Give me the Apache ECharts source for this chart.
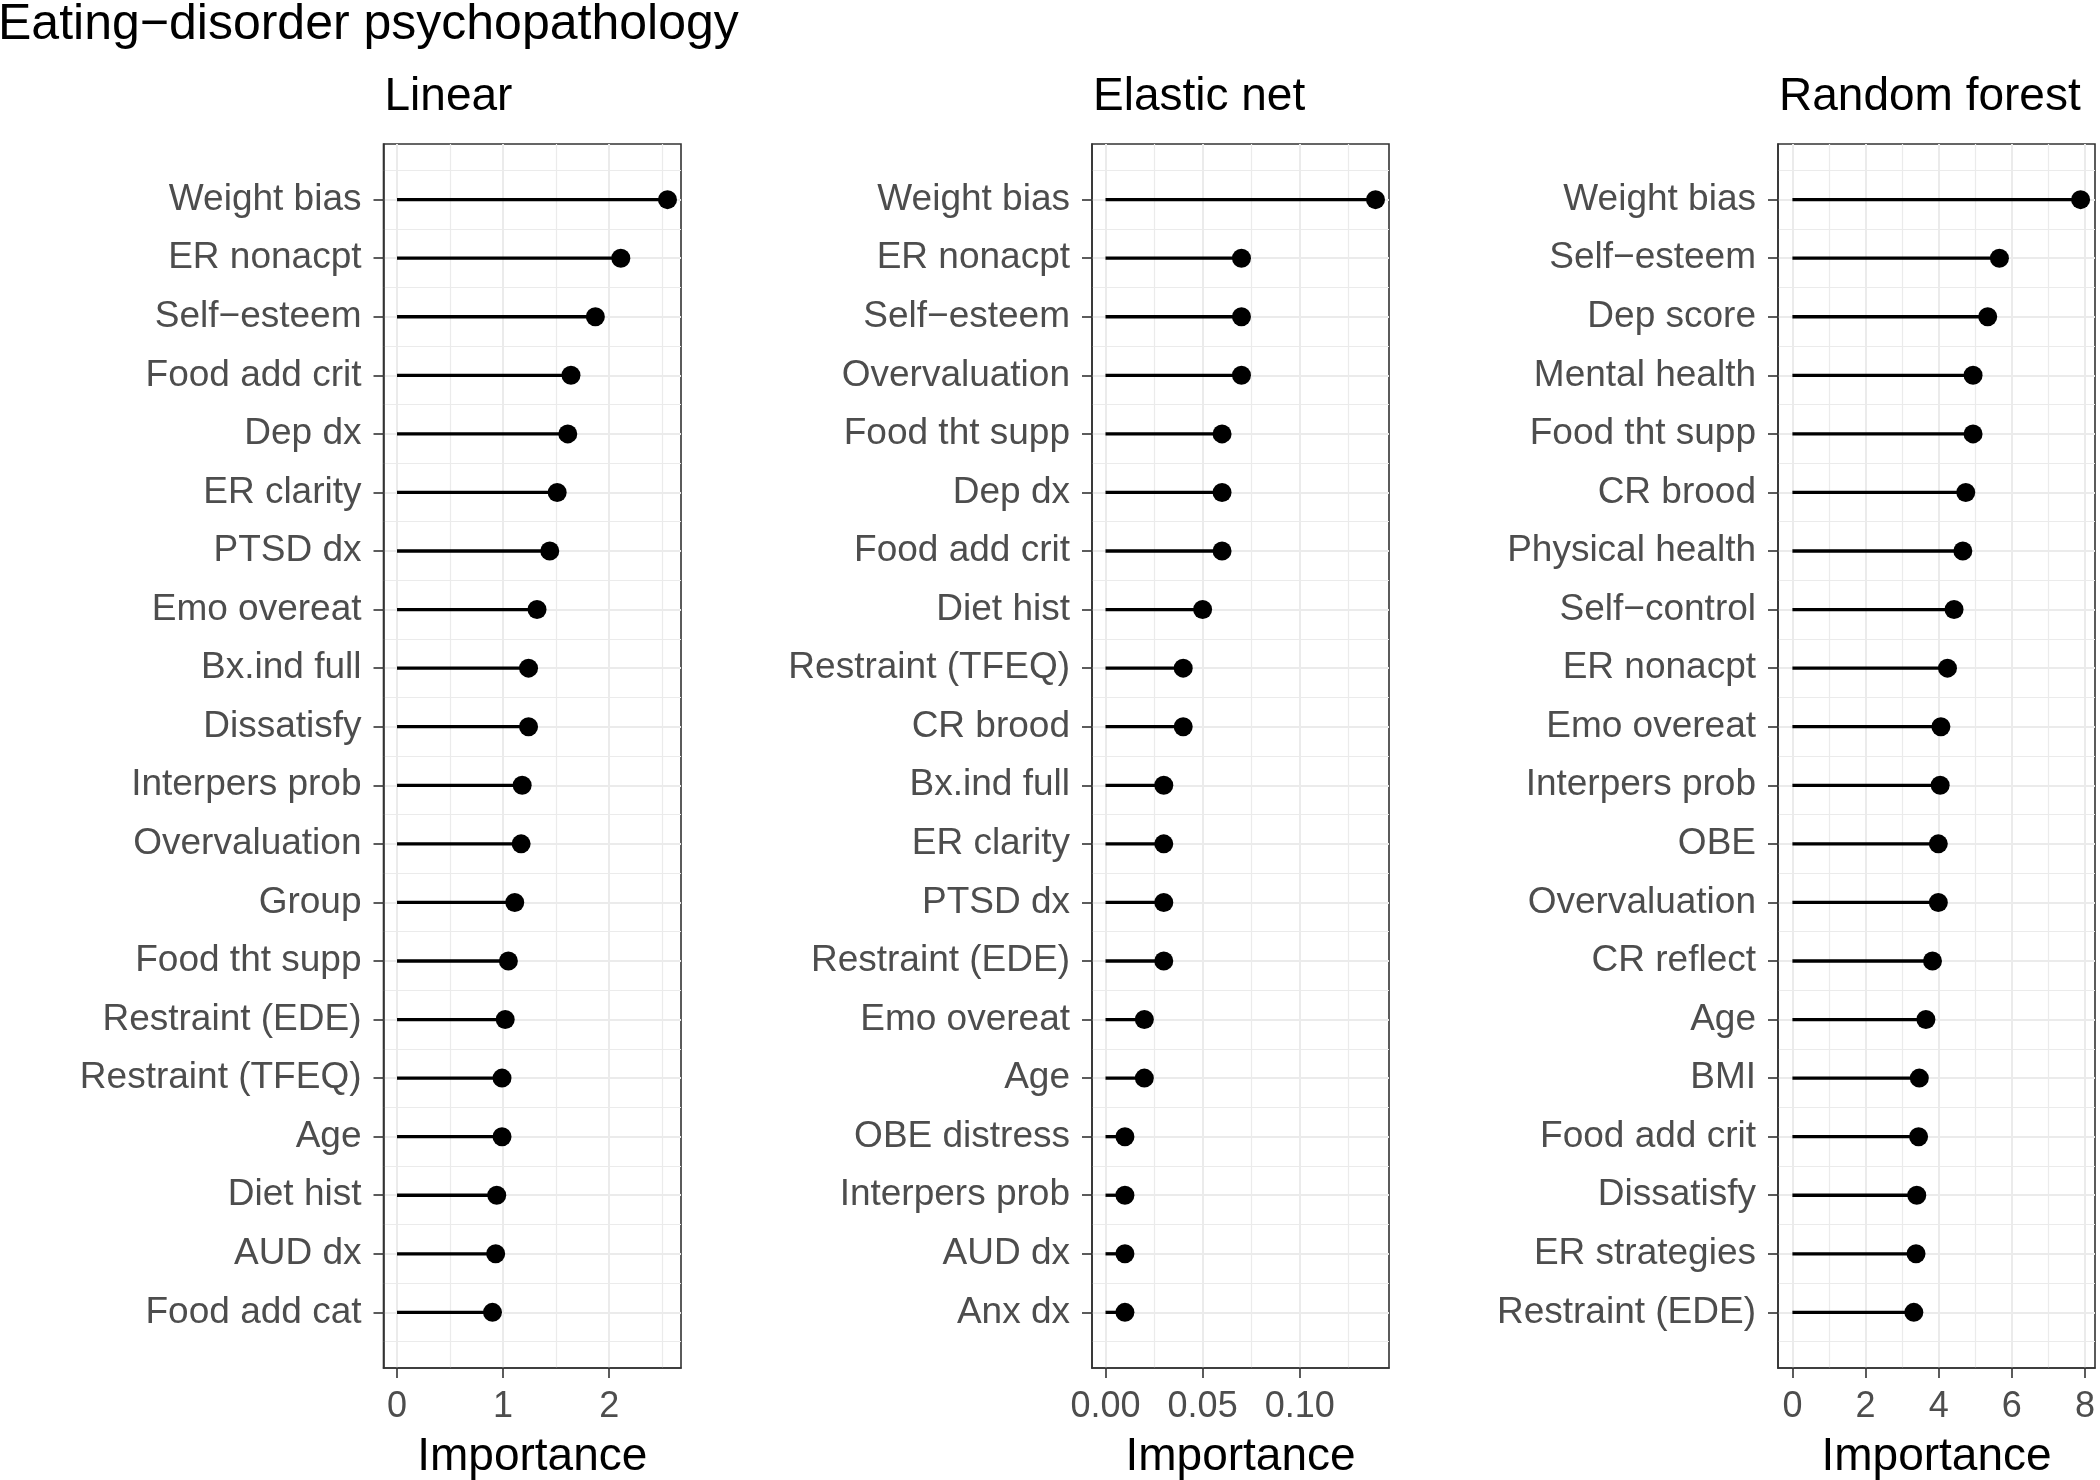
<!DOCTYPE html>
<html>
<head>
<meta charset="utf-8">
<script src="https://cdn.jsdelivr.net/npm/echarts@6/dist/echarts.min.js"></script>
<style>html,body{margin:0;padding:0;background:#fff}#c{width:2100px;height:1480px}</style>
</head>
<body>
<div id="c"></div>
<script>
// ---------- data ----------
const mainTitle = 'Eating\u2212disorder psychopathology';
const panelTitles = ['Linear', 'Elastic net', 'Random forest'];
const axisTitle = 'Importance';

const linCats = ['Weight bias','ER nonacpt','Self\u2212esteem','Food add crit','Dep dx','ER clarity','PTSD dx','Emo overeat','Bx.ind full','Dissatisfy','Interpers prob','Overvaluation','Group','Food tht supp','Restraint (EDE)','Restraint (TFEQ)','Age','Diet hist','AUD dx','Food add cat'];
const linVals = [2.55, 2.11, 1.87, 1.64, 1.61, 1.51, 1.44, 1.32, 1.24, 1.24, 1.18, 1.17, 1.11, 1.05, 1.02, 0.99, 0.99, 0.94, 0.93, 0.90];

const enetCats = ['Weight bias','ER nonacpt','Self\u2212esteem','Overvaluation','Food tht supp','Dep dx','Food add crit','Diet hist','Restraint (TFEQ)','CR brood','Bx.ind full','ER clarity','PTSD dx','Restraint (EDE)','Emo overeat','Age','OBE distress','Interpers prob','AUD dx','Anx dx'];
const enetVals = [0.139, 0.07, 0.07, 0.07, 0.06, 0.06, 0.06, 0.05, 0.04, 0.04, 0.03, 0.03, 0.03, 0.03, 0.02, 0.02, 0.01, 0.01, 0.01, 0.01];

const rfCats = ['Weight bias','Self\u2212esteem','Dep score','Mental health','Food tht supp','CR brood','Physical health','Self\u2212control','ER nonacpt','Emo overeat','Interpers prob','OBE','Overvaluation','CR reflect','Age','BMI','Food add crit','Dissatisfy','ER strategies','Restraint (EDE)'];
const rfVals = [7.88, 5.66, 5.34, 4.94, 4.94, 4.74, 4.66, 4.42, 4.24, 4.06, 4.04, 3.99, 3.99, 3.83, 3.65, 3.47, 3.45, 3.40, 3.38, 3.32];

const linTicks = [0, 1, 2];
const linTickLabels = ['0', '1', '2'];
const linMinor = [0.5, 1.5, 2.5];
const enetTicks = [0, 0.05, 0.10];
const enetTickLabels = ['0.00', '0.05', '0.10'];
const enetMinor = [0.025, 0.075, 0.125];
const rfTicks = [0, 2, 4, 6, 8];
const rfTickLabels = ['0', '2', '4', '6', '8'];
const rfMinor = [1, 3, 5, 7];

// ---------- layout / style ----------
const FONT = 'Liberation Sans, Arial, Helvetica, sans-serif';
const TOP = 144, HEIGHT = 1224;
const panelsLayout = [
  { left: 383.5, width: 297.5 },
  { left: 1092, width: 297 },
  { left: 1778, width: 317 }
];
const panels = [
  { cats: linCats, vals: linVals, ticks: linTicks, tickLabels: linTickLabels, minor: linMinor },
  { cats: enetCats, vals: enetVals, ticks: enetTicks, tickLabels: enetTickLabels, minor: enetMinor },
  { cats: rfCats, vals: rfVals, ticks: rfTicks, tickLabels: rfTickLabels, minor: rfMinor }
];

const grids = [], xAxes = [], yAxes = [], series = [], titles = [];
titles.push({ text: mainTitle, left: -2, top: 0, padding: 0,
  textStyle: { fontSize: 50, fontWeight: 'normal', color: '#000', fontFamily: FONT } });

panels.forEach((p, k) => {
  const L = panelsLayout[k];
  const n = p.cats.length;
  const vmax = Math.max(...p.vals);
  const xmin = -0.05 * vmax, xmax = 1.05 * vmax;
  const yExp = 0.05 * (n - 1);
  const ymin = -yExp, ymax = (n - 1) + yExp;
  const idx = p.cats.map((_, i) => i);
  const halves = [];
  for (let i = 0; i <= n; i++) halves.push(i - 0.5);

  grids.push({ left: L.left, top: TOP, width: L.width, height: HEIGHT, show: true,
    containLabel: false, outerBoundsMode: 'none',
    borderColor: '#333333', borderWidth: 1.6, backgroundColor: '#fff' });
  titles.push({ text: panelTitles[k], left: L.left + 1, top: 74, padding: 0,
    textStyle: { fontSize: 46, fontWeight: 'normal', color: '#000', fontFamily: FONT } });

  // minor x
  xAxes.push({ type: 'value', gridIndex: k, position: 'bottom', min: xmin, max: xmax, show: true,
    axisLine: { show: false }, axisLabel: { show: false },
    axisTick: { show: false, customValues: p.minor },
    splitLine: { show: true, lineStyle: { color: '#EBEBEB', width: 1.2 } } });
  // major x
  xAxes.push({ type: 'value', gridIndex: k, position: 'bottom', min: xmin, max: xmax,
    name: axisTitle, nameLocation: 'middle', nameGap: 66,
    nameTextStyle: { fontSize: 46, color: '#000', fontFamily: FONT },
    axisLine: { show: true, onZero: false, lineStyle: { color: '#333333', width: 1.6 } },
    axisTick: { show: true, length: 10, customValues: p.ticks, lineStyle: { color: '#333333', width: 1.6 } },
    axisLabel: { show: true, customValues: p.ticks, margin: 21, fontSize: 36, color: '#4D4D4D', fontFamily: FONT,
      formatter: (v) => { const j = p.ticks.findIndex(t => Math.abs(t - v) < 1e-9); return j >= 0 ? p.tickLabels[j] : ''; } },
    splitLine: { show: true, lineStyle: { color: '#EBEBEB', width: 2 } } });
  // minor y
  yAxes.push({ type: 'value', gridIndex: k, position: 'left', inverse: true, min: ymin, max: ymax, show: true,
    axisLine: { show: false }, axisLabel: { show: false },
    axisTick: { show: false, customValues: halves },
    splitLine: { show: true, lineStyle: { color: '#EBEBEB', width: 1.2 } } });
  // major y
  yAxes.push({ type: 'value', gridIndex: k, position: 'left', inverse: true, min: ymin, max: ymax,
    axisLine: { show: true, onZero: false, lineStyle: { color: '#333333', width: 1.6 } },
    axisTick: { show: true, length: 10, customValues: idx, lineStyle: { color: '#333333', width: 1.6 } },
    axisLabel: { show: true, customValues: idx, margin: 22, fontSize: 37, color: '#4D4D4D', fontFamily: FONT,
      formatter: (v) => { const j = Math.round(v); return (Math.abs(v - j) < 1e-6 && p.cats[j] !== undefined) ? p.cats[j] : ''; } },
    splitLine: { show: true, lineStyle: { color: '#EBEBEB', width: 2 } } });

  const data = p.vals.map((v, i) => [v, i]);
  series.push({ type: 'custom', xAxisIndex: 2 * k + 1, yAxisIndex: 2 * k + 1, data: data, z: 3,
    silent: true,
    renderItem: (params, api) => {
      const a = api.coord([0, api.value(1)]);
      const b = api.coord([api.value(0), api.value(1)]);
      return { type: 'line', shape: { x1: a[0], y1: a[1], x2: b[0], y2: b[1] },
        style: { stroke: '#000', lineWidth: 3.3 } };
    } });
  series.push({ type: 'scatter', xAxisIndex: 2 * k + 1, yAxisIndex: 2 * k + 1, data: data, z: 4,
    symbol: 'circle', symbolSize: 19, itemStyle: { color: '#000', opacity: 1 }, silent: true });
});

const chart = echarts.init(document.getElementById('c'), null, { renderer: 'canvas' });
chart.setOption({
  animation: false,
  backgroundColor: '#fff',
  title: titles,
  grid: grids,
  xAxis: xAxes,
  yAxis: yAxes,
  series: series
});
</script>
</body>
</html>
